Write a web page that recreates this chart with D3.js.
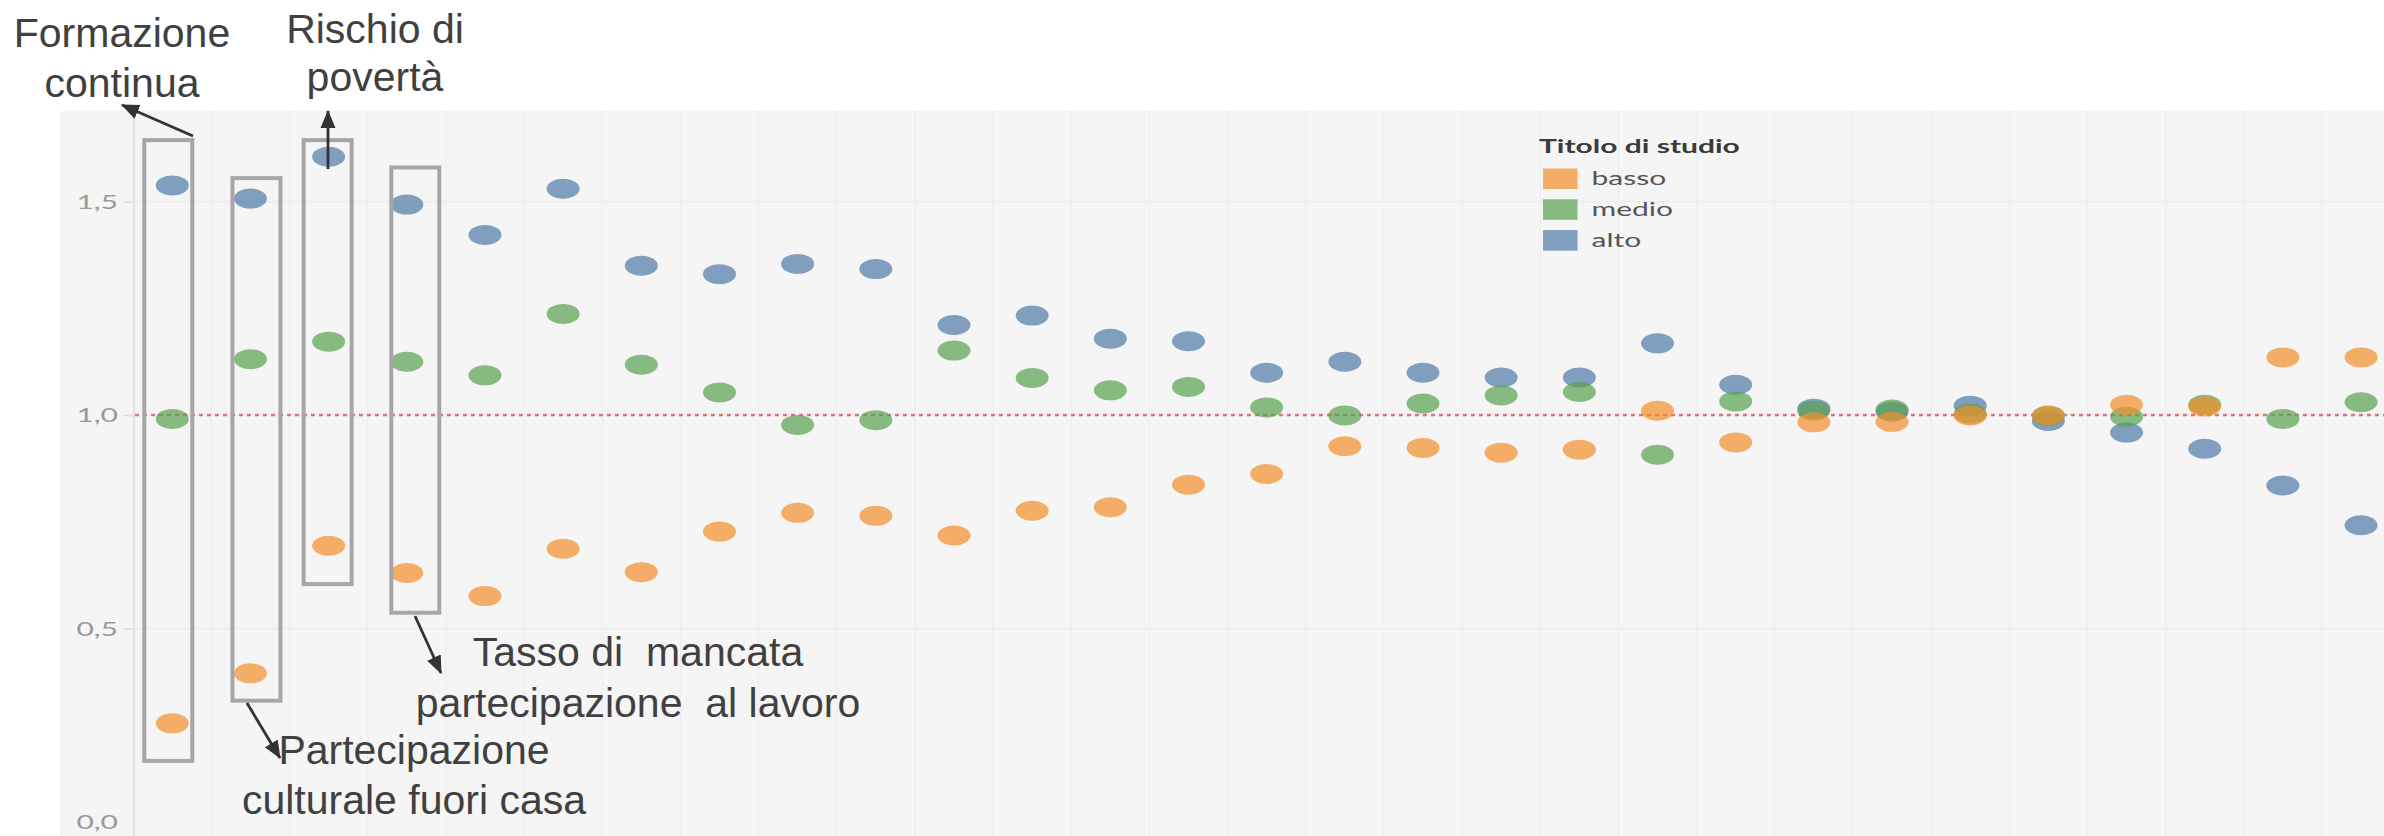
<!DOCTYPE html>
<meta charset="utf-8">
<script src="https://d3js.org/d3.v7.min.js"></script>
<style>
  body { margin: 0; background: #fff; }
  svg { display: block; }
</style>
<body>
<script>

// indicators (x categories); only the first four are named in the picture
var categories = ["Formazione continua", "Partecipazione culturale fuori casa", "Rischio di povertà",
    "Tasso di mancata partecipazione al lavoro", "I05", "I06", "I07", "I08", "I09", "I10", "I11", "I12",
    "I13", "I14", "I15", "I16", "I17", "I18", "I19", "I20", "I21", "I22", "I23", "I24", "I25", "I26",
    "I27", "I28", "I29"];

// ratio to the average, by level of education
var basso = [0.278, 0.395, 0.694, 0.630, 0.576, 0.687, 0.632, 0.727, 0.771, 0.764, 0.718, 0.776, 0.784,
    0.837, 0.862, 0.927, 0.923, 0.912, 0.919, 1.010, 0.936, 0.983, 0.984, 0.999, 0.999, 1.024, 1.020,
    1.135, 1.135];
var medio = [0.991, 1.131, 1.172, 1.125, 1.093, 1.237, 1.118, 1.053, 0.977, 0.988, 1.151, 1.087, 1.058,
    1.066, 1.018, 0.999, 1.027, 1.046, 1.054, 0.907, 1.032, 1.010, 1.013, 1.003, 0.998, 0.996, 1.024,
    0.991, 1.030];
var alto = [1.538, 1.507, 1.605, 1.493, 1.422, 1.530, 1.350, 1.330, 1.354, 1.342, 1.211, 1.233, 1.179,
    1.173, 1.099, 1.125, 1.099, 1.088, 1.088, 1.168, 1.071, 1.015, 1.008, 1.022, 0.986, 0.959, 0.921,
    0.835, 0.742];

var seriesNames = ["basso", "medio", "alto"];
var legendTitle = "Titolo di studio";
var yTicks = [0, 0.5, 1.0, 1.5];
var refValue = 1.0;

var W = 2384, H = 836;
var colors = { basso: "#F28E2B", medio: "#59A14F", alto: "#4E79A7" };
var SX = 1.58;   // the tableau part of the picture is stretched sideways

var itFormat = d3.formatLocale({ decimal: ",", thousands: ".", grouping: [3], currency: ["€", ""] }).format(".1f");

var svg = d3.select("body").append("svg")
    .attr("width", W)
    .attr("height", H);

var defs = svg.append("defs");
defs.append("clipPath").attr("id", "plot-clip")
    .append("rect").attr("x", 134).attr("y", 111).attr("width", W - 134).attr("height", H - 111);
defs.append("marker")
    .attr("id", "arrow")
    .attr("viewBox", "0 -8 18 16")
    .attr("markerUnits", "userSpaceOnUse")
    .attr("markerWidth", 18)
    .attr("markerHeight", 16)
    .attr("refX", 17)
    .attr("refY", 0)
    .attr("orient", "auto")
    .append("path")
    .attr("d", "M0,-7.5L18,0L0,7.5Z")
    .attr("fill", "#333");

// pane background
svg.append("rect")
    .attr("x", 60).attr("y", 111)
    .attr("width", W - 60).attr("height", H - 111)
    .attr("fill", "#f5f5f5");

var x = d3.scaleBand()
    .domain(categories)
    .range([133.2, 133.2 + 78.17 * categories.length])
    .padding(0);

var y = d3.scaleLinear()
    .domain([0, 1.5])
    .range([842, 201.6]);

var plot = svg.append("g").attr("clip-path", "url(#plot-clip)");

// column dividers
plot.append("g").selectAll("line")
    .data(categories.slice(1))
    .join("line")
    .attr("x1", d => x(d)).attr("x2", d => x(d))
    .attr("y1", 111).attr("y2", H)
    .attr("stroke", "#eeeeee")
    .attr("stroke-width", 1.2);

// horizontal grid
plot.append("g").selectAll("line")
    .data(yTicks)
    .join("line")
    .attr("x1", 134).attr("x2", W)
    .attr("y1", d => y(d)).attr("y2", d => y(d))
    .attr("stroke", "#ececec")
    .attr("stroke-width", 1.2);

// axis line
svg.append("line")
    .attr("x1", 134).attr("x2", 134)
    .attr("y1", 111).attr("y2", H)
    .attr("stroke", "#e3e3e3")
    .attr("stroke-width", 2);

// y axis
var yAxis = svg.append("g")
    .attr("transform", "translate(134,0)")
    .call(d3.axisLeft(y).tickValues(yTicks).tickFormat(itFormat).tickSize(11).tickPadding(0));
yAxis.select(".domain").remove();
yAxis.selectAll(".tick line").attr("stroke", "#dedede").attr("stroke-width", 1.5);
yAxis.selectAll(".tick text")
    .attr("x", -16 / SX)
    .attr("y", d => Math.min(0, 822 - y(d)))
    .attr("dy", "0.35em")
    .attr("transform", "scale(" + SX + ",1)")
    .attr("fill", "#999")
    .style("font-family", "Lato, 'Open Sans', sans-serif")
    .style("font-size", "19px");

// reference line at 1
plot.append("line")
    .attr("x1", 135).attr("x2", W)
    .attr("y1", y(refValue)).attr("y2", y(refValue))
    .attr("stroke", "#d9777c")
    .attr("stroke-width", 2.5)
    .attr("stroke-dasharray", "4,4");

// dots
var seriesData = { basso: basso, medio: medio, alto: alto };
["alto", "medio", "basso"].forEach(function (s) {
    plot.append("g").selectAll("ellipse")
        .data(seriesData[s])
        .join("ellipse")
        .attr("cx", (d, i) => x(categories[i]) + x.bandwidth() / 2)
        .attr("cy", d => y(d))
        .attr("rx", 16.5)
        .attr("ry", 10)
        .attr("fill", colors[s])
        .attr("fill-opacity", 0.7);
});

// legend
var legend = svg.append("g");
legend.append("text")
    .attr("transform", "translate(1539,153) scale(" + SX + ",1)")
    .attr("fill", "#3a3a3a")
    .style("font-family", "Lato, 'Open Sans', sans-serif")
    .style("font-weight", "bold")
    .style("font-size", "19px")
    .text(legendTitle);
var items = legend.selectAll("g.item")
    .data(seriesNames)
    .join("g")
    .attr("class", "item")
    .attr("transform", (d, i) => "translate(1543," + (168.5 + i * 30.8) + ")");
items.append("rect")
    .attr("width", 34.5).attr("height", 20.5)
    .attr("fill", d => colors[d])
    .attr("fill-opacity", 0.7);
items.append("text")
    .attr("transform", "translate(48.5,16.5) scale(" + SX + ",1)")
    .attr("fill", "#555")
    .style("font-family", "Lato, 'Open Sans', sans-serif")
    .style("font-size", "19px")
    .text(d => d);

// annotations: boxes around the first four columns
var boxes = [
    { col: 0, dx: -4, top: 1.644, bottom: 0.190 },
    { col: 1, dx: 6, top: 1.555, bottom: 0.331 },
    { col: 2, dx: -1, top: 1.644, bottom: 0.604 },
    { col: 3, dx: 8.5, top: 1.580, bottom: 0.537 }
];
svg.append("g").selectAll("rect")
    .data(boxes)
    .join("rect")
    .attr("x", d => x(categories[d.col]) + x.bandwidth() / 2 + d.dx - 24)
    .attr("y", d => y(d.top))
    .attr("width", 48)
    .attr("height", d => y(d.bottom) - y(d.top))
    .attr("fill", "none")
    .attr("stroke", "#a6a6a6")
    .attr("stroke-width", 4);

var arrows = [
    [193, 136, 122, 105],
    [328, 169, 328, 111],
    [247, 703, 280, 758],
    [415, 616, 441, 673]
];
svg.append("g").selectAll("line")
    .data(arrows)
    .join("line")
    .attr("x1", d => d[0]).attr("y1", d => d[1])
    .attr("x2", d => d[2]).attr("y2", d => d[3])
    .attr("stroke", "#333")
    .attr("stroke-width", 2.8)
    .attr("marker-end", "url(#arrow)");

var notes = [
    { x: 122, y: 47, lines: ["Formazione", "continua"], gap: 50 },
    { x: 375, y: 43, lines: ["Rischio di", "povertà"], gap: 48 },
    { x: 638, y: 666, lines: ["Tasso di  mancata", "partecipazione  al lavoro"], gap: 51 },
    { x: 414, y: 764, lines: ["Partecipazione", "culturale fuori casa"], gap: 50 }
];
notes.forEach(function (n) {
    var t = svg.append("text")
        .attr("text-anchor", "middle")
        .attr("fill", "#404040")
        .style("font-family", "'Liberation Sans', Arial, sans-serif")
        .style("font-size", "41px")
        .style("white-space", "pre");
    n.lines.forEach(function (l, i) {
        t.append("tspan").attr("x", n.x).attr("y", n.y + i * n.gap).text(l);
    });
});

</script>
</body>
